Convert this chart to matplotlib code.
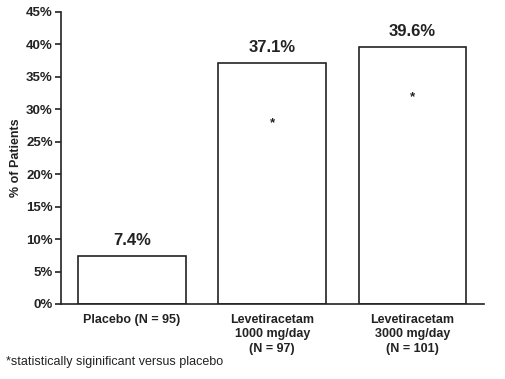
import matplotlib
matplotlib.use("Agg")
import matplotlib.pyplot as plt

categories = ["Placebo (N = 95)", "Levetiracetam\n1000 mg/day\n(N = 97)", "Levetiracetam\n3000 mg/day\n(N = 101)"]
values = [7.4, 37.1, 39.6]
value_labels = ["7.4%", "37.1%", "39.6%"]
star_y = [None, 27.9, 31.9]
yticks = [0, 5, 10, 15, 20, 25, 30, 35, 40, 45]

plt.rcParams['font.family'] = ['Liberation Sans', 'DejaVu Sans']

fig = plt.figure(figsize=(5.05, 3.79), dpi=100)
ax = fig.add_axes([61/505, 1-304/379, (484-61)/505, (304-12)/379])

x = list(range(len(categories)))
ax.bar(x, values, width=0.77, color="white", edgecolor="#222222", linewidth=1.2)
for xi, v, lab in zip(x, values, value_labels):
    ax.text(xi, v + 1.2, lab, ha="center", va="bottom", fontsize=12, fontweight="bold", color="#222222")
for xi, s in zip(x, star_y):
    if s is not None:
        ax.text(xi, s, "*", ha="center", va="center", fontsize=9.5, fontweight="bold", color="#222222")

ax.set_xlim(-0.507, 2.51)
ax.set_ylim(0, 45)
ax.set_yticks(yticks)
ax.set_yticklabels([f"{t}%" for t in yticks], fontsize=9.5, fontweight="bold", color="#222222")
ax.set_xticks(x)
ax.set_xticklabels(categories, fontsize=9, fontweight="bold", color="#222222", linespacing=1.3)
ax.tick_params(axis="x", length=0, pad=7)
ax.tick_params(axis="y", length=4, width=1.2, color="#222222", pad=2)
ax.spines["top"].set_visible(False)
ax.spines["right"].set_visible(False)
for s in ["left", "bottom"]:
    ax.spines[s].set_linewidth(1.2)
    ax.spines[s].set_color("#222222")
ax.set_ylabel("% of Patients", fontsize=9, fontweight="bold", color="#222222", labelpad=3)

fig.text(6/505, 1-362/379, "*statistically siginificant versus placebo", fontsize=9, color="#222222", va="center", ha="left")

fig.savefig("out.png", dpi=100)
